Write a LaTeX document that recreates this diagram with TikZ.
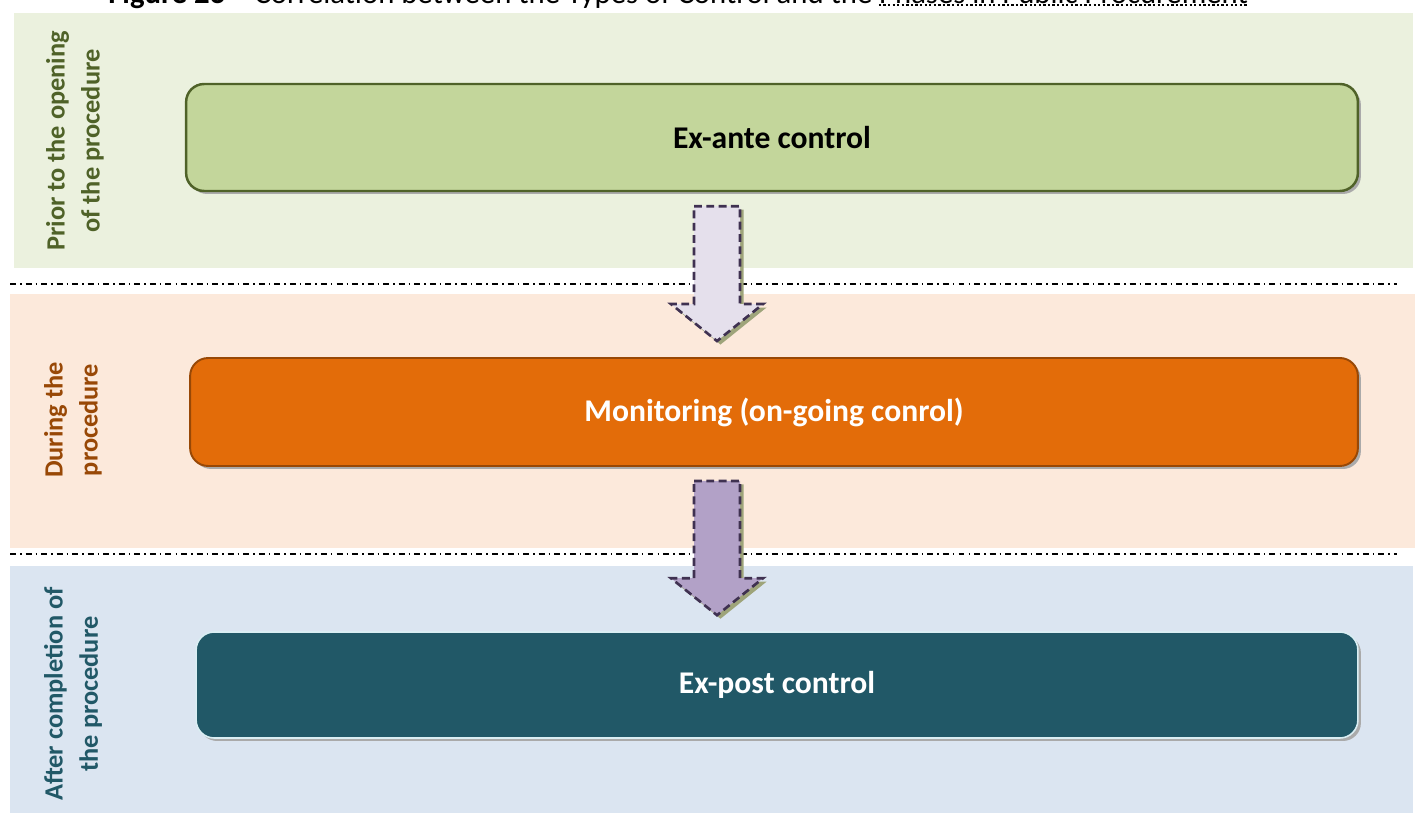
\documentclass[tikz,border=0pt]{standalone}
\usepackage{fontspec}
\setmainfont{Carlito}
\usepackage{xcolor}
\usetikzlibrary{calc, shadows, math}
\definecolor{bandgreen}{RGB}{235,241,222}
\definecolor{bandorange}{RGB}{252,233,219}
\definecolor{bandblue}{RGB}{219,229,241}
\definecolor{antefill}{RGB}{195,214,155}
\definecolor{antedraw}{RGB}{79,98,40}
\definecolor{monfill}{RGB}{227,108,9}
\definecolor{mondraw}{RGB}{152,72,6}
\definecolor{postfill}{RGB}{33,88,103}
\definecolor{postdraw}{RGB}{218,238,243}
\definecolor{arrowlight}{RGB}{229,224,236}
\definecolor{arrowdark}{RGB}{178,161,199}
\definecolor{arrowline}{RGB}{63,49,81}
\definecolor{arrowshadow}{RGB}{158,164,122}
\definecolor{boxshadow}{RGB}{170,170,170}

\begin{document}
\begin{tikzpicture}[x=0.02cm, y=-0.02cm,
  stage/.style={rounded corners=0.36cm, text=white,
    font=\fontsize{18}{22}\selectfont\bfseries,
    drop shadow={shadow xshift=0.06cm, shadow yshift=-0.06cm, fill=boxshadow, opacity=1}},
  phase/.style={rotate=90, align=center, inner sep=0pt,
    font=\fontsize{15}{20}\selectfont\bfseries},
  blockarrow/.style={draw=arrowline, line width=1.5pt, dash pattern=on 4.5pt off 2.5pt,
    drop shadow={shadow xshift=0.07cm, shadow yshift=-0.07cm, fill=arrowshadow, opacity=1}},
  separator/.style={line width=0.85pt, dash pattern=on 3.4pt off 2.3pt on 0.85pt off 2.3pt}]
\useasboundingbox (0,0) rectangle (1415,813);
\clip (0,0) rectangle (1415,813);

%caption, cut at the top
\node[anchor=base west, inner sep=0pt, font=\fontsize{17.5}{21}\selectfont] (caption) at (108,4)
  {\textbf{Figure 23 –} Correlation between the Types of Control and the};
\node[anchor=base west, inner sep=0pt, font=\fontsize{17.5}{21}\selectfont] (capnote) at ($(caption.base east)+(6,0)$)
  {Phases in Public Procurement};
\draw[line width=1.6pt, dash pattern=on 1.3pt off 1.3pt] ($(capnote.base west)+(0,1)$) -- ($(capnote.base east)+(0,1)$);

%bands
\fill[bandgreen] (14,13) rectangle (1413,268);
\fill[bandorange] (10,294) rectangle (1415,548);
\fill[bandblue] (10,566) rectangle (1413,813);
\draw[separator] (10,284) -- (1397,284);
\draw[separator] (10,554) -- (1397,554);

%phases
\node[phase, text=antedraw] (prior) at (75,141) {Prior to the opening\\of the procedure};
\node[phase, text=mondraw] (during) at (73,420) {During the\\procedure};
\node[phase, text=postfill] (after) at (73,694) {After completion of\\the procedure};

%controls
\node[stage, fill=antefill, draw=antedraw, line width=1.4pt, text=black,
  minimum width=23.44cm, minimum height=2.14cm] (exante) at (772,137.5) {Ex-ante control};
\node[stage, fill=monfill, draw=mondraw, line width=1.1pt,
  minimum width=23.36cm, minimum height=2.16cm] (monitor) at (774,412) {Monitoring (on-going conrol)};
\node[stage, fill=postfill, draw=postdraw, line width=0.9pt,
  minimum width=23.24cm, minimum height=2.12cm] (expost) at (777,685) {Ex-post control};

%arrows
\coordinate (axis) at (717,0);
\foreach \from/\to/\col in {exante/monitor/arrowlight, monitor/expost/arrowdark}{
  \coordinate (top) at ($(axis |- \from.south)+(0,14)$);
  \coordinate (tip) at ($(axis |- \to.north)+(0,-16)$);
  \draw[blockarrow, fill=\col] ($(top)+(-23,0)$) -- ($(top)+(23,0)$) -- ($(tip)+(23,-37)$)
    -- ($(tip)+(46,-37)$) -- (tip) -- ($(tip)+(-46,-37)$) -- ($(tip)+(-23,-37)$) -- cycle;
}
\end{tikzpicture}
\end{document}
